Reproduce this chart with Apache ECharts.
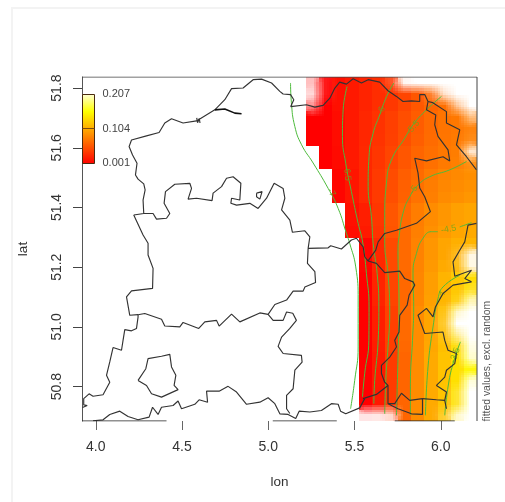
<!DOCTYPE html>
<html><head><meta charset="utf-8">
<script src="https://cdn.jsdelivr.net/npm/echarts@6/dist/echarts.min.js"></script>
<style>html,body{margin:0;padding:0;background:#fff}#c{width:505px;height:502px}</style>
</head><body><div id="c"></div>
<script>
var lonTicks=[4,4.5,5,5.5,6];
var latTicks=[50.8,51,51.2,51.4,51.6,51.8];
var legendLabels=['0.207','0.104','0.001'];
var heatStops=['#ff0000','#ff5500','#ffaa00','#ffff00','#ffffd8'];
var lonMin=3.92,lonMax=6.21,latMin=50.685,latMax=51.837;

var heatLon0=5.217,heatDLon=0.0765,heatLatTop=51.837,heatDLat=0.0384;
var n=null;
var heatRows=[
[.001,.001,.010,.016,.022,.028,.034,.043,.053,.062,.068,.071,.074],
[.001,.001,.010,.016,.022,.028,.034,.043,.053,.062,.068,.071,.074],
[.001,.001,.010,.016,.022,.029,.035,.044,.054,.062,.068,.071,.074],
[.001,.001,.008,.016,.024,.031,.039,.048,.057,.065,.071,.074,.077],
[.001,.001,.008,.016,.024,.031,.039,.048,.057,.065,.071,.074,.077],
[.001,.001,.008,.016,.024,.032,.040,.049,.058,.066,.072,.075,.078],
[n,.001,.007,.016,.025,.034,.043,.053,.062,.068,.074,.077,.080],
[n,.001,.007,.016,.025,.034,.043,.053,.062,.069,.075,.078,.082],
[n,n,.004,.014,.025,.036,.047,.058,.066,.075,.081,.084,.087],
[n,n,.004,.014,.025,.036,.048,.059,.068,.077,.083,.086,.089],
[n,n,.004,.014,.025,.036,.049,.060,.070,.078,.085,.088,.092],
[n,n,n,.010,.019,.034,.053,.065,.077,.086,.092,.098,.101],
[n,n,n,.010,.019,.034,.053,.065,.077,.086,.092,.098,.101],
[n,n,n,.008,.017,.032,.052,.065,.078,.088,.095,.101,.104],
[n,n,n,n,.004,.025,.046,.065,.080,.092,.101,.107,.110],
[n,n,n,n,.004,.025,.046,.065,.080,.092,.101,.107,.110],
[n,n,n,n,.003,.024,.045,.065,.081,.094,.104,.112,.118],
[n,n,n,n,.001,.023,.043,.064,.082,.097,.110,.122,.134],
[n,n,n,n,.001,.023,.043,.064,.082,.097,.110,.122,.134],
[n,n,n,n,.001,.022,.043,.064,.083,.098,.111,.124,.136],
[n,n,n,n,.001,.019,.040,.065,.086,.101,.116,.131,.143],
[n,n,n,n,.001,.019,.040,.065,.086,.101,.116,.131,.143],
[n,n,n,n,.001,.019,.040,.065,.086,.101,.116,.131,.143],
[n,n,n,n,.001,.018,.039,.064,.086,.102,.117,.133,.145],
[n,n,n,n,.001,.016,.037,.062,.086,.104,.119,.137,.150],
[n,n,n,n,.001,.016,.037,.062,.086,.104,.119,.137,.150],
[n,n,n,n,.001,.016,.037,.062,.086,.104,.119,.137,.150],
[n,n,n,n,.001,.016,.037,.062,.086,.104,.119,.137,.150],
[n,n,n,n,.001,.016,.037,.062,.086,.104,.119,.137,.150],
[n,n,n,n,.001,.016,.037,.062,.086,.104,.119,.137,.150]
];
// [row, column, opacity] : cells that fade out towards the plot background
var heatFade=[
[0,0,.25],[0,1,.9],[0,6,.85],[0,7,.05],[0,8,0],[0,9,0],[0,10,0],[0,11,0],[0,12,0],
[1,0,.15],[1,1,.9],[1,9,.8],[1,10,.2],[1,11,0],[1,12,0],
[2,0,.45],[2,11,.4],[2,12,0],[3,12,.5],[4,12,.95],[5,12,.9],[6,12,.2],[7,12,.9],
[15,11,.85],[15,12,.1],[16,11,.9],[16,12,.1],[18,12,.85],[19,11,.9],[19,12,.3],
[20,10,.9],[20,11,.2],[20,12,0],[21,10,.8],[21,11,0],[21,12,0],[22,10,.9],[22,11,.4],[22,12,0],
[23,11,.9],[23,12,.1],[24,12,.2],[25,12,.95],[26,12,.15],[27,11,.8],[27,12,0],[28,11,.8],[28,12,0],
[29,4,.1],[29,5,.1],[29,6,.2],[29,10,.8],[29,11,.2],[29,12,0]
];

var borderNorth=[[4.220,51.375],[4.278,51.380],[4.274,51.425],[4.286,51.459],[4.278,51.479],[4.245,51.495],[4.230,51.509],[4.239,51.548],[4.213,51.576],[4.193,51.604],[4.207,51.626],[4.294,51.640],[4.367,51.651],[4.400,51.683],[4.439,51.697],[4.506,51.683],[4.584,51.690],[4.690,51.727],[4.748,51.761],[4.787,51.798],[4.854,51.800],[4.912,51.828],[4.961,51.830],[5.019,51.817],[5.067,51.789],[5.086,51.780],[5.129,51.778],[5.148,51.761],[5.130,51.738],[5.221,51.744],[5.270,51.736],[5.318,51.742],[5.357,51.766],[5.386,51.800],[5.414,51.820],[5.453,51.813],[5.492,51.831],[5.540,51.817],[5.579,51.828],[5.646,51.820],[5.694,51.791],[5.743,51.772],[5.781,51.755],[5.830,51.757],[5.878,51.755],[5.878,51.778],[5.907,51.778],[5.926,51.755],[5.954,51.751],[6.033,51.721],[6.033,51.683],[6.110,51.660],[6.091,51.610],[6.149,51.570],[6.207,51.526]];
var borderLimburgWest=[[5.926,51.755],[5.917,51.727],[5.971,51.710],[5.965,51.677],[5.984,51.638],[6.042,51.593],[6.052,51.556],[6.013,51.570],[5.917,51.556],[5.849,51.565],[5.868,51.516],[5.878,51.465],[5.907,51.436],[5.940,51.386],[5.859,51.347],[5.743,51.324],[5.675,51.313],[5.637,51.285],[5.623,51.257],[5.578,51.221],[5.627,51.213],[5.675,51.182],[5.762,51.187],[5.791,51.162],[5.839,51.151],[5.849,51.140],[5.816,51.106],[5.805,51.073],[5.762,51.039],[5.758,50.983],[5.733,50.955],[5.743,50.933],[5.704,50.899],[5.656,50.871],[5.656,50.844],[5.675,50.815],[5.694,50.804],[5.627,50.774],[5.549,50.760]];
var borderLimburgSouth=[[5.694,50.804],[5.694,50.771],[5.694,50.743],[5.733,50.743],[5.772,50.778],[5.820,50.754],[5.894,50.760],[5.894,50.707],[5.830,50.709],[5.752,50.726],[5.694,50.743]];
var borderEast=[[5.894,50.760],[5.975,50.756],[6.023,50.754],[6.033,50.726],[6.023,50.754],[6.033,50.782],[5.975,50.804],[6.023,50.832],[6.033,50.855],[6.081,50.877],[6.091,50.911],[6.042,50.922],[6.023,50.955],[6.013,50.983],[5.907,50.978],[5.868,51.039],[5.917,51.062],[5.955,51.034],[5.969,51.067],[6.013,51.112],[6.071,51.140],[6.178,51.151],[6.139,51.162],[6.178,51.190],[6.081,51.170],[6.071,51.218],[6.110,51.257],[6.139,51.285],[6.158,51.341],[6.207,51.347]];
var borderWestMid=[[4.220,51.375],[4.274,51.308],[4.303,51.280],[4.303,51.241],[4.332,51.196],[4.329,51.129],[4.207,51.121],[4.178,51.101],[4.197,51.039],[4.245,51.041]];
var borderCentralTop=[[4.278,51.380],[4.332,51.380],[4.352,51.361],[4.410,51.364],[4.429,51.380],[4.396,51.414],[4.404,51.453],[4.458,51.478],[4.545,51.481],[4.555,51.464],[4.535,51.428],[4.584,51.431],[4.674,51.423],[4.680,51.448],[4.729,51.470],[4.758,51.498],[4.796,51.503],[4.841,51.481],[4.835,51.425],[4.787,51.431],[4.783,51.414],[4.816,51.408],[4.893,51.414],[4.941,51.397],[4.990,51.431],[5.034,51.481],[5.086,51.464],[5.096,51.431],[5.077,51.392],[5.125,51.358],[5.140,51.317],[5.212,51.322],[5.241,51.302],[5.231,51.263],[5.347,51.265],[5.362,51.272],[5.424,51.261],[5.482,51.291],[5.511,51.297],[5.550,51.268],[5.559,51.235],[5.578,51.221]];
var borderCentralEast=[[5.231,51.263],[5.227,51.213],[5.270,51.185],[5.274,51.149],[5.212,51.134],[5.202,51.120],[5.144,51.120],[5.106,51.090],[5.038,51.075],[4.999,51.042],[4.951,51.047],[4.835,51.017],[4.787,51.043],[4.715,51.003],[4.700,51.022],[4.632,51.017],[4.597,50.995],[4.506,51.015],[4.487,51.000],[4.400,51.003],[4.381,51.026],[4.284,51.045],[4.245,51.041]];
var borderLoop=[[4.999,51.042],[5.028,51.022],[5.086,51.022],[5.106,51.050],[5.142,51.046],[5.163,51.022],[5.125,50.995],[5.077,50.966],[5.057,50.935],[5.086,50.911],[5.192,50.905],[5.196,50.882],[5.154,50.855],[5.144,50.793],[5.106,50.771],[5.106,50.726],[5.125,50.710]];
var borderLowerLeft=[[4.245,51.041],[4.245,51.033],[4.236,50.995],[4.207,50.987],[4.168,50.991],[4.158,50.955],[4.149,50.922],[4.100,50.931],[4.081,50.883],[4.062,50.838],[4.081,50.815],[4.042,50.773],[3.984,50.768],[3.961,50.776],[3.930,50.760],[3.930,50.739],[3.950,50.737],[3.923,50.730]];
var borderSouth=[[3.984,50.686],[4.042,50.689],[4.081,50.707],[4.139,50.718],[4.187,50.700],[4.245,50.689],[4.309,50.698],[4.329,50.731],[4.361,50.707],[4.381,50.731],[4.448,50.737],[4.477,50.752],[4.497,50.726],[4.574,50.741],[4.599,50.756],[4.648,50.748],[4.642,50.785],[4.715,50.785],[4.767,50.801],[4.816,50.782],[4.874,50.741],[4.951,50.748],[4.999,50.763],[5.038,50.743],[5.067,50.709],[5.115,50.707],[5.159,50.693],[5.179,50.718],[5.241,50.715],[5.308,50.720],[5.366,50.743],[5.405,50.741],[5.419,50.718],[5.449,50.709],[5.530,50.729],[5.559,50.760]];
var borderEnclave=[[4.245,50.821],[4.290,50.860],[4.303,50.894],[4.381,50.902],[4.429,50.908],[4.439,50.866],[4.464,50.838],[4.454,50.804],[4.477,50.790],[4.381,50.765],[4.323,50.776],[4.294,50.804],[4.245,50.821]];
var borderIslet=[[4.932,51.448],[4.964,51.453],[4.951,51.428],[4.932,51.436],[4.932,51.448]];
var borderBaarle=[[4.585,51.700],[4.590,51.684],[4.600,51.698],[4.604,51.683]];
var borderWaterway=[[4.690,51.727],[4.748,51.730],[4.806,51.716],[4.845,51.714]];
var borders=[borderNorth,borderLimburgWest,borderLimburgSouth,borderEast,borderWestMid,borderCentralTop,borderCentralEast,borderLoop,borderLowerLeft,borderSouth,borderEnclave,borderIslet,borderBaarle];

var contour7=[[5.129,51.817],[5.134,51.751],[5.154,51.671],[5.193,51.610],[5.260,51.549],[5.347,51.464],[5.405,51.397],[5.453,51.313],[5.472,51.280],[5.507,51.201],[5.521,51.090],[5.521,50.933],[5.501,50.821],[5.477,50.726]];
var contour65=[[5.457,51.805],[5.434,51.727],[5.430,51.638],[5.449,51.548],[5.482,51.453],[5.521,51.347],[5.548,51.281],[5.569,51.179],[5.584,51.067],[5.583,50.955],[5.559,50.845],[5.546,50.765]];
var contour6=[[5.728,51.817],[5.686,51.772],[5.646,51.710],[5.608,51.649],[5.584,51.570],[5.579,51.470],[5.598,51.369],[5.608,51.280],[5.631,51.179],[5.641,51.067],[5.637,50.955],[5.617,50.821],[5.612,50.743]];
var contour55=[[6.004,51.772],[5.917,51.727],[5.839,51.677],[5.791,51.632],[5.714,51.559],[5.685,51.481],[5.675,51.369],[5.675,51.280],[5.694,51.179],[5.704,51.045],[5.694,50.933],[5.681,50.821],[5.675,50.709]];
var contour5=[[6.149,51.554],[6.052,51.526],[5.936,51.503],[5.868,51.475],[5.820,51.436],[5.781,51.381],[5.758,51.302],[5.752,51.257],[5.758,51.067],[5.752,50.899],[5.743,50.704]];
var contour45a=[[6.178,51.349],[6.110,51.335]];
var contour45b=[[5.983,51.319],[5.946,51.319],[5.897,51.297],[5.859,51.246],[5.839,51.179],[5.843,51.067],[5.836,50.955],[5.824,50.810],[5.824,50.704]];
var contour4=[[6.110,51.173],[6.013,51.134],[5.984,51.095],[5.955,51.000],[5.926,50.866],[5.911,50.704]];
var contour35=[[6.114,50.950],[6.071,50.877],[6.042,50.799],[6.023,50.704]];
var contours=[contour7,contour65,contour6,contour55,contour5,contour45a,contour45b,contour4,contour35];
var contourLabels=[[5.366,51.450,'-7',-60],[5.457,51.515,'-6.5',-85],[5.656,51.724,'-6',70],[5.839,51.668,'-5.5',50],[5.843,51.459,'-5',55],[6.046,51.327,'-4.5',10],[6.004,51.106,'-4',60],[6.083,50.905,'-3.5',70]];

var frameTopRight=[[lonMin,latMax],[lonMax,latMax],[lonMax,latMin]];
var frameBottomSegments=[[[lonMin,latMin],[4.41,latMin]],[[5.026,latMin],[5.397,latMin]],[[5.733,latMin],[6.081,latMin]]];

var font='"Liberation Sans",Arial,sans-serif';
var rowsN=heatRows.length,colsN=heatRows[0].length;
var fadeGrid=heatRows.map(function(r){return r.map(function(){return 1;});});
heatFade.forEach(function(f){fadeGrid[f[0]][f[1]]=f[2];});
function fadeAt(r,c,fr){
  if(r<0||c<0||r>=rowsN||c>=colsN||heatRows[r][c]===null)return fr;
  return fadeGrid[r][c];
}
var heatData=[];
heatRows.forEach(function(row,r){row.forEach(function(v,c){
  if(v!==null)heatData.push([heatLon0+c*heatDLon,heatLatTop-r*heatDLat,v,r,c]);
});});
function cellAlpha(r,c,u,v){
  var own=fadeGrid[r][c];
  var dc=u<0.5?-1:1,dr=v<0.5?-1:1;
  var fu=Math.abs(u-0.5),fv=Math.abs(v-0.5);
  var a=fadeAt(r,c+dc,own),b=fadeAt(r+dr,c,own),d=fadeAt(r+dr,c+dc,own);
  return own*(1-fu)*(1-fv)+a*fu*(1-fv)+b*(1-fu)*fv+d*fu*fv;
}
function renderHeat(params,api){
  var lon=api.value(0),lat=api.value(1),r=api.value(3),c=api.value(4);
  var p0=api.coord([lon,lat]),p1=api.coord([lon+heatDLon,lat-heatDLat]);
  var color=api.visual('color'),kids=[],N=5;
  var xs=[],ys=[],i,j;
  for(i=0;i<=N;i++){xs.push(Math.round(p0[0]+(p1[0]-p0[0])*i/N));ys.push(Math.round(p0[1]+(p1[1]-p0[1])*i/N));}
  for(j=0;j<N;j++)for(i=0;i<N;i++){
    var al=cellAlpha(r,c,(i+.5)/N,(j+.5)/N);
    if(al<=0.01||xs[i+1]<=xs[i]||ys[j+1]<=ys[j])continue;
    kids.push({type:'rect',shape:{x:xs[i],y:ys[j],width:xs[i+1]-xs[i],height:ys[j+1]-ys[j]},style:{fill:color,opacity:al}});
  }
  return {type:'group',children:kids};
}
var series=[{type:'custom',data:heatData,renderItem:renderHeat,silent:true,z:1,clip:true,encode:{x:0,y:1},animation:false}];
contours.forEach(function(ct){
  series.push({type:'line',data:ct,smooth:0.5,showSymbol:false,silent:true,z:3,animation:false,lineStyle:{color:'#4dbb3c',width:1}});
});
series.push({type:'scatter',symbolSize:0,silent:true,z:4,animation:false,
  data:contourLabels.map(function(l){return {value:[l[0],l[1]],label:{show:true,position:'inside',formatter:l[2],rotate:l[3],color:'#6aa51e',fontSize:9,fontFamily:font}};})});
borders.forEach(function(b){
  series.push({type:'line',data:b,showSymbol:false,silent:true,z:5,animation:false,lineStyle:{color:'#333',width:1.15}});
});
series.push({type:'line',data:borderWaterway,showSymbol:false,silent:true,z:5,animation:false,lineStyle:{color:'#111',width:1.6}});
series.push({type:'line',data:frameTopRight,showSymbol:false,silent:true,z:6,animation:false,lineStyle:{color:'#444',width:1}});
frameBottomSegments.forEach(function(s){
  series.push({type:'line',data:s,showSymbol:false,silent:true,z:6,animation:false,lineStyle:{color:'#222',width:1}});
});

var legendGradient=new echarts.graphic.LinearGradient(0,1,0,0,heatStops.map(function(c,i){return {offset:i/(heatStops.length-1),color:c};}));
var chart=echarts.init(document.getElementById('c'),null,{renderer:'canvas'});
chart.setOption({
  animation:false,backgroundColor:'#fff',
  grid:{left:82,right:28,top:77,bottom:81,containLabel:false},
  xAxis:{type:'value',min:lonMin,max:lonMax,name:'lon',nameLocation:'middle',nameGap:54,
    nameTextStyle:{fontFamily:font,fontSize:13.5,color:'#333'},
    axisLine:{show:false},splitLine:{show:false},
    axisTick:{show:true,length:9,customValues:lonTicks,lineStyle:{color:'#666',width:1}},
    axisLabel:{customValues:lonTicks,margin:19,fontFamily:font,fontSize:14,color:'#333',formatter:function(v){return v.toFixed(1);}}},
  yAxis:{type:'value',min:latMin,max:latMax,name:'lat',nameLocation:'middle',nameGap:52,nameRotate:90,
    nameTextStyle:{fontFamily:font,fontSize:13.5,color:'#333'},
    axisLine:{show:true,lineStyle:{color:'#555',width:1}},splitLine:{show:false},
    axisTick:{show:true,length:9,customValues:latTicks,lineStyle:{color:'#444',width:1}},
    axisLabel:{customValues:latTicks,rotate:90,margin:25,fontFamily:font,fontSize:14,color:'#333',align:'center',verticalAlign:'middle',formatter:function(v){return v.toFixed(1);}}},
  visualMap:{type:'continuous',show:false,seriesIndex:0,dimension:2,min:0.001,max:0.207,inRange:{color:heatStops}},
  graphic:[
    {type:'rect',z:0,silent:true,shape:{x:12,y:8,width:600,height:600},style:{fill:'none',stroke:'#f3f3f3',lineWidth:2}},
    {type:'rect',z:50,silent:true,shape:{x:82.5,y:94.5,width:12,height:69},style:{fill:legendGradient,stroke:'#4a2a10',lineWidth:1}},
    {type:'line',z:51,silent:true,shape:{x1:82.5,y1:128.5,x2:94.5,y2:128.5},style:{stroke:'#7a4a10',lineWidth:1}},
    {type:'text',z:50,silent:true,x:102.5,y:94,style:{text:legendLabels[0],font:'11px '+font,fill:'#444',textVerticalAlign:'middle'}},
    {type:'text',z:50,silent:true,x:102.5,y:129,style:{text:legendLabels[1],font:'11px '+font,fill:'#444',textVerticalAlign:'middle'}},
    {type:'text',z:50,silent:true,x:102.5,y:163,style:{text:legendLabels[2],font:'11px '+font,fill:'#444',textVerticalAlign:'middle'}},
    {type:'text',z:50,silent:true,x:487,y:421.5,rotation:Math.PI/2,style:{text:'fitted values, excl. random',font:'10.4px '+font,fill:'#555',textAlign:'left',textVerticalAlign:'middle'}}
  ],
  series:series
});
</script></body></html>
